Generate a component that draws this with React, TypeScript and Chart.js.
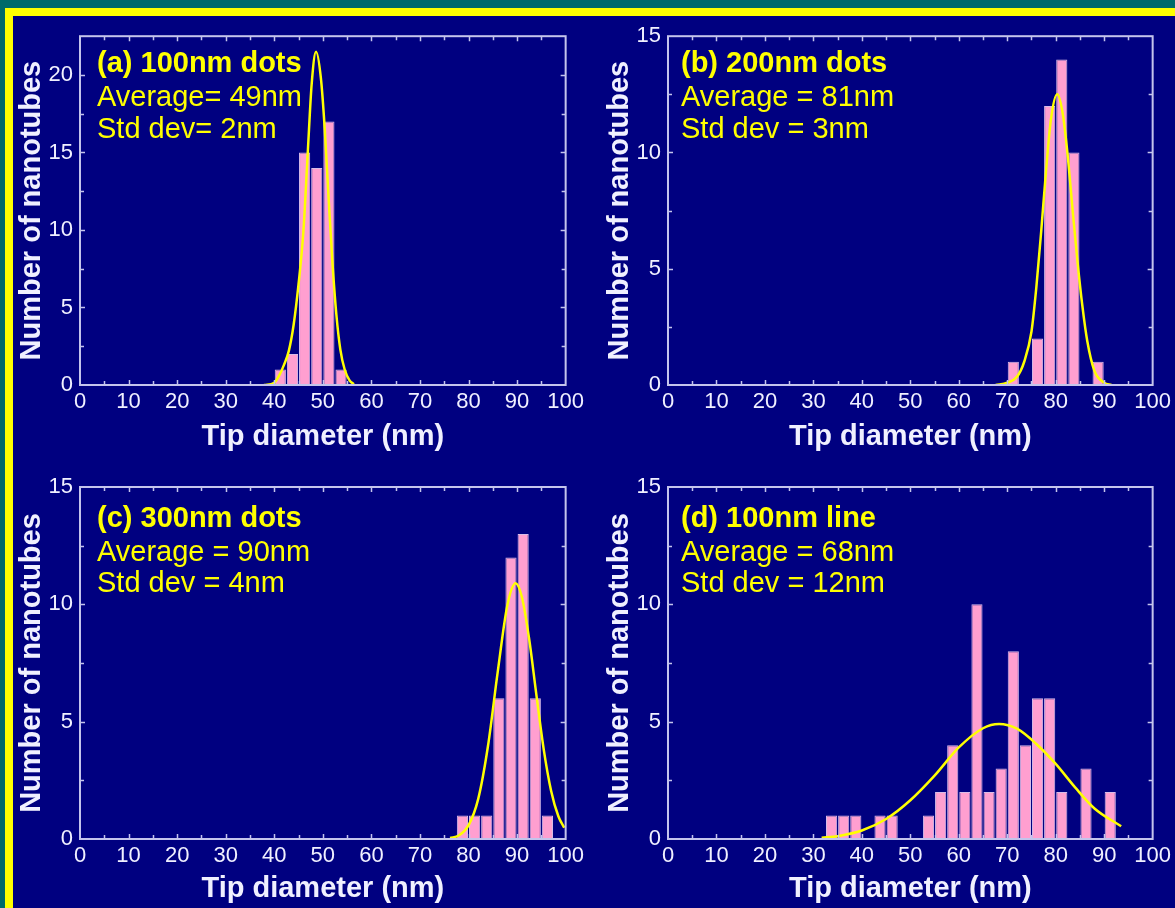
import React, { useEffect, useRef } from 'react';
import { Chart, registerables } from 'chart.js';

Chart.register(...registerables);

// ---------- data ----------
const xTickValues = [0, 10, 20, 30, 40, 50, 60, 70, 80, 90, 100];
const yTicksA = [0, 5, 10, 15, 20];
const yTicksOther = [0, 5, 10, 15];

// (a) 100nm dots
const binsA = [41.25, 43.75, 46.25, 48.75, 51.25, 53.75];
const countsA = [1, 2, 15, 14, 17, 1];
const fitXA = [37.9, 40, 41, 42, 43, 44, 45, 46, 46.9, 47.7, 48.6, 49.6, 50.4, 51.2, 52, 52.8, 53.6, 54.5, 55.5, 56.4];
const fitYA = [0, 0.15, 0.6, 1.3, 2.2, 3.9, 6.5, 9.9, 15.0, 19.4, 21.5, 19.8, 16.5, 12.0, 7.8, 4.5, 2.3, 1.0, 0.3, 0.05];

// (b) 200nm dots
const binsB = [71.25, 73.75, 76.25, 78.75, 81.25, 83.75, 86.25, 88.75];
const countsB = [1, 0, 2, 12, 14, 10, 0, 1];
const fitXB = [67.6, 70, 72, 73.5, 75, 76, 77, 78, 79, 80.3, 81.5, 82.5, 83.5, 84.5, 85.5, 86.5, 88, 90, 91.5];
const fitYB = [0, 0.1, 0.35, 1.0, 2.3, 4.2, 6.6, 9.2, 11.4, 12.5, 11.6, 9.8, 7.5, 5.3, 3.4, 1.9, 0.6, 0.1, 0];

// (c) 300nm dots
const binsC = [78.75, 81.25, 83.75, 86.25, 88.75, 91.25, 93.75, 96.25];
const countsC = [1, 1, 1, 6, 12, 13, 6, 1];
const fitXC = [76.2, 78, 80, 82, 84, 86, 88, 89.7, 91, 92.5, 94, 95.5, 97, 98.5, 99.7];
const fitYC = [0.04, 0.15, 0.58, 1.71, 3.95, 7.1, 9.96, 10.9, 10.3, 8.5, 6.1, 3.8, 2.06, 0.97, 0.48];

// (d) 100nm line
const binsD = [33.75, 36.25, 38.75, 43.75, 46.25, 53.75, 56.25, 58.75, 61.25, 63.75, 66.25, 68.75, 71.25, 73.75, 76.25, 78.75, 81.25, 86.25, 91.25];
const countsD = [1, 1, 1, 1, 1, 1, 2, 4, 2, 10, 2, 3, 8, 4, 6, 6, 2, 3, 2];
const fitXD = [31.7, 35, 40, 45, 50, 55, 60, 65, 68.3, 72, 76, 80, 84, 88, 93.5];
const fitYD = [0.05, 0.12, 0.36, 0.85, 1.65, 2.7, 3.9, 4.72, 4.9, 4.7, 4.05, 3.2, 2.2, 1.3, 0.54];

const notesA = ['(a) 100nm dots', 'Average= 49nm', 'Std dev= 2nm'];
const notesB = ['(b) 200nm dots', 'Average = 81nm', 'Std dev = 3nm'];
const notesC = ['(c) 300nm dots', 'Average = 90nm', 'Std dev = 4nm'];
const notesD = ['(d) 100nm line', 'Average = 68nm', 'Std dev = 12nm'];

const xTitle = 'Tip diameter (nm)';
const yTitle = 'Number of nanotubes';

// ---------- styling ----------
const FONT = "'Liberation Sans', Arial, Helvetica, sans-serif";
const NAVY = '#000080';
const FRAME = '#c4c4ec';
const LABEL = '#f0f0ff';
const PINK = '#ff9fd0';
const YELLOW = '#ffff00';

const decorPlugin = {
  id: 'panelDecor',
  beforeDatasetsDraw(chart: any, _args: any, opts: any) {
    const { ctx, chartArea } = chart;
    ctx.save();
    ctx.fillStyle = YELLOW;
    ctx.textBaseline = 'middle';
    ctx.textAlign = 'left';
    (opts.notes as string[]).forEach((t, i) => {
      ctx.font = (i === 0 ? 'bold ' : '') + '29px ' + FONT;
      ctx.fillText(t, chartArea.left + opts.noteX, chartArea.top + opts.noteYs[i]);
    });
    ctx.restore();
  },
  afterDatasetsDraw(chart: any, _args: any, opts: any) {
    const { ctx, chartArea } = chart;
    const { left, right, top, bottom } = chartArea;
    const xs = chart.scales.x;
    const ys = chart.scales.y;
    ctx.save();
    ctx.strokeStyle = FRAME;
    ctx.lineWidth = 2;
    ctx.strokeRect(left, top, right - left, bottom - top);
    ctx.lineWidth = 1.5;
    ctx.beginPath();
    for (let v = 5; v < 100; v += 5) {
      const px = Math.round(xs.getPixelForValue(v)) + 0.5;
      const len = v % 10 === 0 ? 5 : 4;
      ctx.moveTo(px, bottom);
      ctx.lineTo(px, bottom - len);
      ctx.moveTo(px, top);
      ctx.lineTo(px, top + len);
    }
    for (let v = 2.5; v < opts.yMax - 0.01; v += 2.5) {
      const py = Math.round(ys.getPixelForValue(v)) + 0.5;
      const len = v % 5 === 0 ? 5 : 4;
      ctx.moveTo(left, py);
      ctx.lineTo(left + len, py);
      ctx.moveTo(right, py);
      ctx.lineTo(right - len, py);
    }
    ctx.stroke();
    ctx.restore();
  },
};

type PanelProps = {
  left: number;
  top: number;
  width: number;
  height: number;
  padTop: number;
  padRight: number;
  xAxisHeight: number;
  xTitlePad: number;
  bins: number[];
  counts: number[];
  fitX: number[];
  fitY: number[];
  yMax: number;
  yTicks: number[];
  notes: string[];
  noteX: number;
  noteYs: number[];
};

function Panel(p: PanelProps) {
  const ref = useRef<HTMLCanvasElement>(null);
  useEffect(() => {
    const chart = new Chart(ref.current as HTMLCanvasElement, {
      type: 'bar',
      data: {
        datasets: [
          {
            type: 'line',
            data: p.fitX.map((x, i) => ({ x, y: p.fitY[i] })),
            borderColor: YELLOW,
            borderWidth: 2.5,
            pointRadius: 0,
            cubicInterpolationMode: 'monotone',
            fill: false,
            order: 0,
          } as any,
          {
            type: 'bar',
            data: p.bins.map((x, i) => ({ x, y: p.counts[i] })),
            backgroundColor: PINK,
            borderColor: '#d8bce8',
            borderWidth: 1,
            categoryPercentage: 1,
            barPercentage: 0.92,
            order: 1,
          } as any,
        ],
      },
      options: {
        animation: false,
        responsive: false,
        devicePixelRatio: 1,
        layout: { padding: { left: 0, top: p.padTop, right: p.padRight, bottom: 0 } },
        plugins: {
          legend: { display: false },
          tooltip: { enabled: false },
          panelDecor: { notes: p.notes, noteX: p.noteX, noteYs: p.noteYs, yMax: p.yMax },
        } as any,
        scales: {
          x: {
            type: 'linear',
            min: 0,
            max: 100,
            offset: false,
            grid: { display: false, drawTicks: false },
            border: { display: false },
            afterBuildTicks: (s: any) => {
              s.ticks = xTickValues.map((v) => ({ value: v }));
            },
            afterFit: (s: any) => {
              s.height = p.xAxisHeight;
            },
            ticks: {
              color: LABEL,
              font: { family: FONT, size: 22 },
              padding: 4,
              maxRotation: 0,
              autoSkip: false,
            },
            title: {
              display: true,
              text: xTitle,
              color: LABEL,
              font: { family: FONT, size: 29, weight: 'bold' },
              padding: { top: 0, bottom: p.xTitlePad },
            },
          },
          y: {
            type: 'linear',
            min: 0,
            max: p.yMax,
            grid: { display: false, drawTicks: false },
            border: { display: false },
            afterBuildTicks: (s: any) => {
              s.ticks = p.yTicks.map((v) => ({ value: v }));
            },
            afterFit: (s: any) => {
              s.width = 80;
            },
            ticks: {
              color: LABEL,
              font: { family: FONT, size: 22 },
              padding: 7,
            },
            title: {
              display: true,
              text: yTitle,
              color: LABEL,
              font: { family: FONT, size: 29, weight: 'bold' },
              padding: { top: 15, bottom: 0 },
            },
          },
        },
      } as any,
      plugins: [decorPlugin as any],
    });
    return () => chart.destroy();
  }, []);
  return (
    <canvas
      ref={ref}
      width={p.width}
      height={p.height}
      style={{ position: 'absolute', left: p.left, top: p.top, width: p.width, height: p.height }}
    />
  );
}

export default function App() {
  useEffect(() => {
    document.body.style.margin = '0';
  }, []);
  return (
    <div
      style={{
        position: 'fixed',
        left: 0,
        top: 0,
        width: 1175,
        height: 908,
        background: NAVY,
        overflow: 'hidden',
      }}
    >
      <div style={{ position: 'absolute', left: 0, top: 0, width: 1175, height: 8, background: '#006a6a' }} />
      <div style={{ position: 'absolute', left: 0, top: 0, width: 5, height: 908, background: '#006a6a' }} />
      <div style={{ position: 'absolute', left: 5, top: 8, width: 1170, height: 8, background: YELLOW }} />
      <div style={{ position: 'absolute', left: 5, top: 8, width: 8, height: 900, background: YELLOW }} />
      <Panel
        left={0} top={16} width={588} height={444}
        padTop={16} padRight={20} xAxisHeight={75} xTitlePad={6}
        bins={binsA} counts={countsA} fitX={fitXA} fitY={fitYA}
        yMax={22.5} yTicks={yTicksA}
        notes={notesA} noteX={17} noteYs={[28, 62, 94]}
      />
      <Panel
        left={588} top={16} width={587} height={444}
        padTop={16} padRight={22} xAxisHeight={75} xTitlePad={6}
        bins={binsB} counts={countsB} fitX={fitXB} fitY={fitYB}
        yMax={15} yTicks={yTicksOther}
        notes={notesB} noteX={13} noteYs={[28, 62, 94]}
      />
      <Panel
        left={0} top={460} width={588} height={448}
        padTop={27} padRight={20} xAxisHeight={69} xTitlePad={2}
        bins={binsC} counts={countsC} fitX={fitXC} fitY={fitYC}
        yMax={15} yTicks={yTicksOther}
        notes={notesC} noteX={17} noteYs={[32, 66, 97]}
      />
      <Panel
        left={588} top={460} width={587} height={448}
        padTop={27} padRight={22} xAxisHeight={69} xTitlePad={2}
        bins={binsD} counts={countsD} fitX={fitXD} fitY={fitYD}
        yMax={15} yTicks={yTicksOther}
        notes={notesD} noteX={13} noteYs={[32, 66, 97]}
      />
    </div>
  );
}
